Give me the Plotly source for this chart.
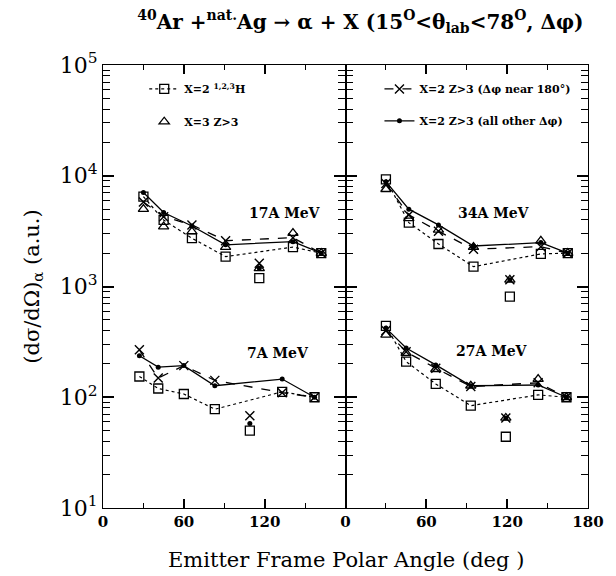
import plotly.graph_objects as go
from plotly.subplots import make_subplots
import math

# ---------------- data ----------------
# emitter-frame polar angles (deg) for each beam energy
ang_17 = [30, 45, 66, 91, 116, 141, 162]
ang_7 = [27, 41, 60, 83, 109, 133, 157]
ang_34 = [30, 47, 69, 95, 122, 145, 165]
ang_27 = [30, 45, 67, 93, 119, 143, 164]

# (dsigma/dOmega)_alpha (a.u.)
h_17 = [6470, 3990, 2730, 1860, 1190, 2270, 2000]       # X=2 1,2,3H
z3_17 = [4990, 3470, 3130, 2270, 1460, 3030, 2000]      # X=3 Z>3
near_17 = [5800, 4270, 3600, 2590, 1620, 2760, 2000]    # X=2 Z>3 (dphi near 180)
other_17 = [7050, 4650, 3520, 2380, 1460, 2540, 2000]   # X=2 Z>3 (all other dphi)

h_7 = [154, 120, 107, 78, 50, 112, 100]
near_7 = [268, 149, 193, 142, 68, 110, 100]
other_7 = [237, 187, 193, 127, 58, 146, 100]

h_34 = [9290, 3770, 2420, 1510, 811, 1970, 2000]
z3_34 = [7550, 4130, 3240, 2270, 1150, 2580, 2000]
near_34 = [8500, 4430, 3150, 2170, 1150, 2290, 2000]
other_34 = [8850, 4990, 3600, 2320, 1150, 2490, 2000]

h_27 = [441, 210, 132, 84, 44, 105, 100]
z3_27 = [366, 250, 179, 127, 65, 146, 100]
near_27 = [400, 257, 183, 125, 65, 135, 100]
other_27 = [421, 278, 196, 127, 65, 129, 100]

# index of the detector point that is not joined by the lines
loose_idx = 4

energy_labels = ["17A MeV", "7A MeV", "34A MeV", "27A MeV"]
label_pos = [(135, 4610, 1), (130, 253, 1), (110, 4590, 2), (109, 259, 2)]

y_tickvals = [10, 100, 1000, 10000, 100000]
y_ticktext = ["10<sup>1</sup>", "10<sup>2</sup>", "10<sup>3</sup>", "10<sup>4</sup>", "10<sup>5</sup>"]
x_tick_left = [0, 60, 120]
x_tick_right = [0, 60, 120, 180]
x_minor = [30, 90, 150]
y_minor = [m * 10 ** k for k in range(1, 5) for m in range(2, 10)]

legend_names = {
    "h": "X=2 <sup>1,2,3</sup>H",
    "z3": "X=3 Z>3",
    "near": "X=2 Z>3 (\u0394\u03c6 near 180\u00b0)",
    "other": "X=2 Z>3 (all other \u0394\u03c6)",
}

# ---------------- styles ----------------
SERIF = "DejaVu Serif"
styles = {
    "h": dict(marker=dict(symbol="square-open", size=9, color="black", line=dict(width=1.3)),
              line=dict(color="black", width=1.2, dash="dot"), lines=True, legend="legend"),
    "z3": dict(marker=dict(symbol="triangle-up-open", size=9, color="black", line=dict(width=1.3)),
               line=dict(color="black", width=1.2), lines=False, legend="legend2"),
    "near": dict(marker=dict(symbol="x-thin-open", size=9, color="black", line=dict(width=1.4, color="black")),
                 line=dict(color="black", width=1.3, dash="dash"), lines=True, legend="legend3"),
    "other": dict(marker=dict(symbol="circle", size=5, color="black"),
                  line=dict(color="black", width=1.3), lines=True, legend="legend4"),
}

fig = make_subplots(rows=1, cols=2, shared_yaxes=True, horizontal_spacing=0)

datasets = [
    (1, ang_17, {"h": h_17, "z3": z3_17, "near": near_17, "other": other_17}),
    (1, ang_7, {"h": h_7, "near": near_7, "other": other_7}),
    (2, ang_34, {"h": h_34, "z3": z3_34, "near": near_34, "other": other_34}),
    (2, ang_27, {"h": h_27, "z3": z3_27, "near": near_27, "other": other_27}),
]

shown = set()
for col, xs, series in datasets:
    for key in ["h", "z3", "near", "other"]:
        if key not in series:
            continue
        ys = series[key]
        st = styles[key]
        showleg = key not in shown
        shown.add(key)
        if st["lines"]:
            yj = [v if i != loose_idx else None for i, v in enumerate(ys)]
            fig.add_trace(go.Scatter(x=xs, y=yj, mode="lines+markers", connectgaps=True,
                                     marker=st["marker"], line=st["line"],
                                     name=legend_names[key], legendgroup=key,
                                     legend=st["legend"], showlegend=showleg),
                          row=1, col=col)
            fig.add_trace(go.Scatter(x=[xs[loose_idx]], y=[ys[loose_idx]], mode="markers",
                                     marker=st["marker"], legendgroup=key, showlegend=False),
                          row=1, col=col)
        else:
            fig.add_trace(go.Scatter(x=xs, y=ys, mode="markers", marker=st["marker"],
                                     name=legend_names[key], legendgroup=key,
                                     legend=st["legend"], showlegend=showleg),
                          row=1, col=col)

# energy labels
for txt, (ax, ay, col) in zip(energy_labels, label_pos):
    fig.add_annotation(text="<b>%s</b>" % txt, x=ax, y=math.log10(ay),
                       xref="x" if col == 1 else "x2", yref="y", showarrow=False,
                       font=dict(family=SERIF, size=14, color="black"))

axis_common = dict(showline=True, linecolor="black", linewidth=1.2, mirror="allticks",
                   ticks="inside", tickcolor="black", showgrid=False, zeroline=False)

for col, tv in ((1, x_tick_left), (2, x_tick_right)):
    fig.update_xaxes(range=[0, 180], tickmode="array", tickvals=tv, ticklen=9, tickwidth=1.5,
                     minor=dict(tickmode="array", tickvals=x_minor, ticks="inside",
                                ticklen=5, tickwidth=1.2, tickcolor="black", showgrid=False),
                     tickfont=dict(family=SERIF, size=15, color="black", weight="bold"),
                     **axis_common, row=1, col=col)
fig.update_yaxes(type="log", range=[1, 5], tickmode="array", tickvals=y_tickvals,
                 ticktext=y_ticktext, ticklen=11, tickwidth=1.5,
                 minor=dict(tickmode="array", tickvals=y_minor, ticks="inside",
                            ticklen=7, tickwidth=1.2, tickcolor="black", showgrid=False),
                 tickfont=dict(family=SERIF, size=22, color="black"),
                 **axis_common)
fig.update_yaxes(showticklabels=False, row=1, col=2)

fig.update_yaxes(title=dict(text="(d\u03c3/d\u03a9)<sub>\u03b1</sub> (a.u.)",
                            font=dict(family=SERIF, size=21, color="black"), standoff=14),
                 row=1, col=1)

fig.add_annotation(text="Emitter Frame Polar Angle (deg )", xref="paper", yref="paper",
                   x=0.5, y=-0.085, yanchor="top", showarrow=False,
                   font=dict(family=SERIF, size=21, color="black"))

legend_base = dict(bgcolor="rgba(0,0,0,0)", borderwidth=0, xanchor="left", yanchor="middle",
                   font=dict(family=SERIF, size=11, color="black", weight="bold"))

fig.update_layout(
    width=616, height=576,
    margin=dict(l=103, r=17, t=65, b=68),
    paper_bgcolor="white", plot_bgcolor="white",
    title=dict(text="<b><sup>40</sup>Ar +<sup>nat.</sup>Ag \u2192 \u03b1 + X (15<sup>O</sup>&lt;\u03b8<sub>lab</sub>&lt;78<sup>O</sup>, \u0394\u03c6)</b>",
               x=0.585, xanchor="center", y=0.962, yanchor="middle",
               font=dict(family=SERIF, size=20, color="black")),
    legend=dict(x=0.085, y=0.946, **legend_base),
    legend2=dict(x=0.085, y=0.872, **legend_base),
    legend3=dict(x=0.57, y=0.946, **legend_base),
    legend4=dict(x=0.57, y=0.874, **legend_base),
)

fig.write_html("out.html")
